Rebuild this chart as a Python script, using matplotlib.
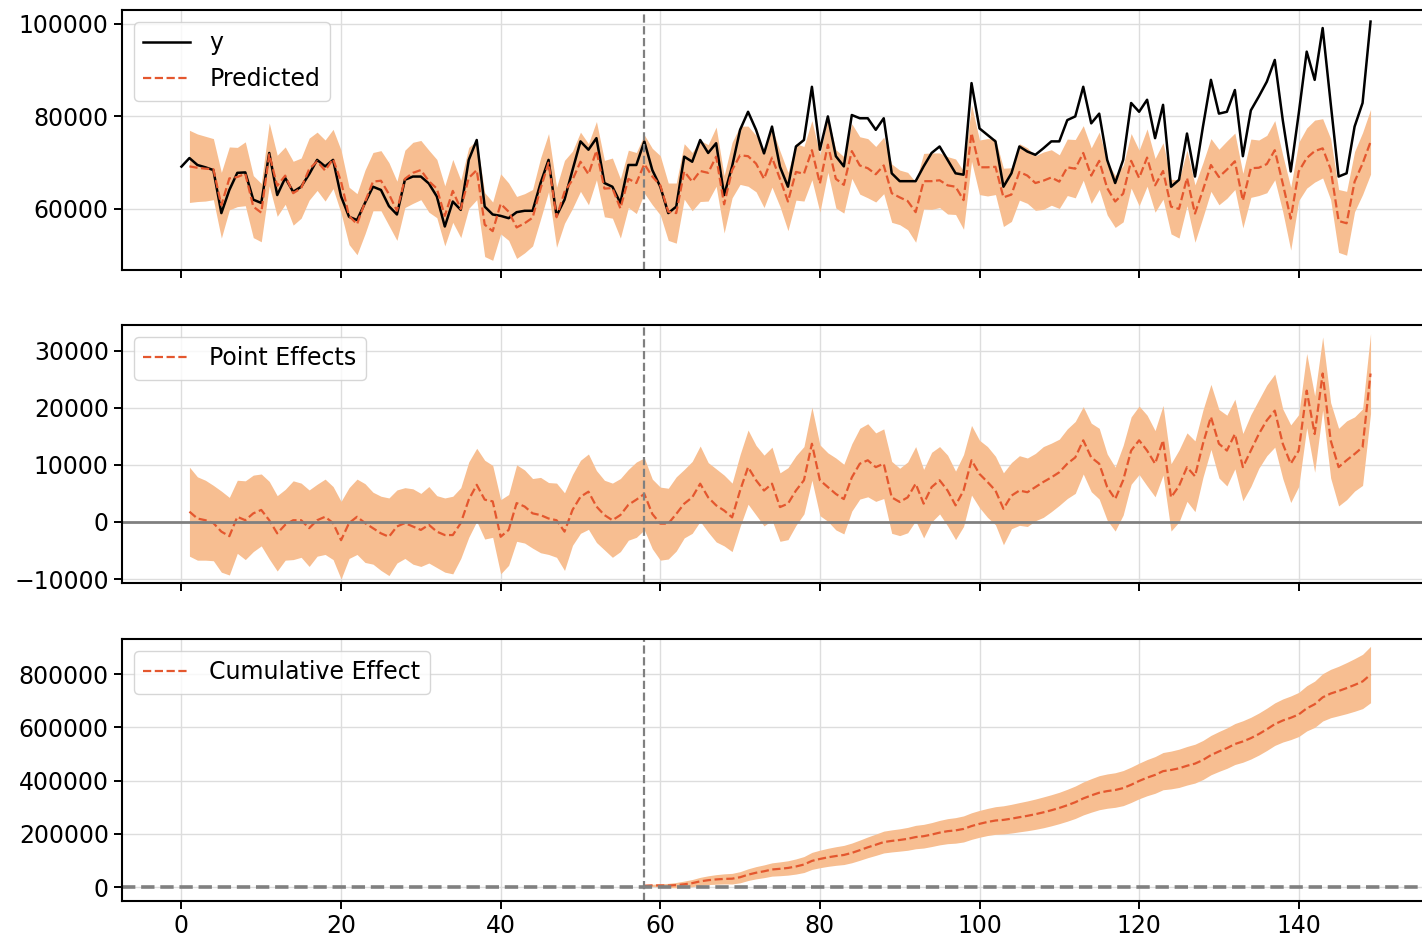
import numpy as np
import matplotlib.pyplot as plt

nan = np.nan
intervention = 58

# observed series
y = [
    69150, 71000, 69500, 69000, 68400, 59100, 64100, 67800, 67900, 62000,
    61300, 72100, 63000, 66700, 63700, 64800, 67500, 70600, 69200, 70600,
    62700, 58300, 57600, 61300, 64800, 64100, 60600, 58800, 66300, 67000,
    67000, 65500, 62700, 56200, 61600, 59800, 70600, 74900, 60500, 58800,
    58500, 58000, 59300, 59600, 59600, 65600, 70600, 58500, 62000, 68400,
    74600, 72800, 75300, 65600, 64800, 61300, 69500, 69500, 74600, 68400,
    64800, 59100, 60500, 71300, 70200, 74900, 72100, 74200, 63000, 69200,
    77100, 81000, 77100, 72000, 77800, 69100, 64800, 73500, 74900, 86400,
    72800, 80000, 71400, 69200, 80300, 79600, 79600, 77100, 79600, 67700,
    66000, 66000, 66000, 69200, 72100, 73500, 70600, 67700, 67400, 87200,
    77400, 76000, 74600, 64800, 67700, 73500, 72400, 71700, 73100, 74600,
    74600, 79200, 80000, 86400, 78500, 80600, 70600, 65600, 70600, 82900,
    81000, 83600, 75300, 82500, 64800, 66300, 76300, 67000, 77800, 87900,
    80600, 81000, 85700, 71400, 81300, 84300, 87500, 92200, 79200, 68100,
    80600, 94000, 87900, 99100, 82900, 67000, 67700, 77800, 82900, 100500,
]

# model prediction (first point has no prediction)
predicted = [
    nan, 69200, 68900, 68700, 68600, 60800, 66600, 66900, 67600, 60500,
    59200, 71800, 65000, 67200, 63400, 64500, 68600, 70300, 68300, 70800,
    65900, 58500, 56700, 61500, 65900, 66100, 63200, 59600, 66500, 67800,
    68400, 66000, 64400, 58500, 63900, 60000, 66700, 68400, 56600, 55200,
    61100, 59400, 56000, 56900, 58100, 64400, 70000, 58200, 63700, 66300,
    70200, 67500, 72600, 64400, 64500, 60100, 66500, 65600, 69700, 67000,
    65100, 59400, 59100, 68100, 65900, 68200, 67800, 71300, 61000, 68400,
    71600, 71400, 69800, 66500, 71100, 66500, 61600, 68000, 67600, 72700,
    65500, 73900, 66500, 65200, 72500, 69400, 68800, 67500, 69400, 63400,
    62500, 61700, 59300, 66000, 66000, 66200, 65100, 64800, 61900, 76400,
    69000, 69000, 69100, 62500, 63100, 68000, 67200, 65600, 66100, 66800,
    65900, 69000, 68700, 72100, 67200, 70400, 64500, 61600, 63300, 70400,
    66700, 71100, 65100, 68200, 60500, 60000, 66700, 59000, 64100, 69500,
    66900, 68500, 70300, 61800, 68800, 68900, 69700, 72700, 65500, 57900,
    68100, 71000, 72500, 73100, 68600, 57400, 56900, 65900, 69800, 74500,
]

# half width of the prediction interval
pred_halfwidth = [
    nan, 7800, 7300, 7000, 6600, 7100, 6800, 6400, 6900, 6700,
    6300, 6800, 6600, 6200, 6900, 6500, 6700, 6300, 6600, 6400,
    6800, 6200, 6600, 6900, 6300, 6500, 6800, 6400, 6200, 6600,
    6400, 6700, 6300, 6500, 6800, 6200, 6600, 6400, 6900, 6300,
    6500, 6200, 6700, 6400, 6100, 6600, 6300, 6500, 6800, 6200,
    6400, 6600, 6300, 6100, 6500, 6400, 6200, 6600, 6300, 6100,
    6400, 6200, 6500, 6000, 6300, 6600, 6100, 6400, 6200, 6000,
    6300, 6500, 6100, 6200, 6400, 6000, 6300, 6100, 5900, 6400,
    6200, 6000, 6300, 6100, 5900, 6200, 6400, 6000, 6100, 6300,
    5900, 6200, 6500, 6000, 6100, 5900, 6200, 6000, 6300, 6100,
    5900, 6200, 6000, 6300, 5800, 6100, 6000, 5900, 6200, 6000,
    5800, 6100, 6300, 5900, 6000, 6200, 5800, 5600, 6100, 5900,
    6000, 6200, 5800, 6100, 5900, 6300, 6000, 6200, 5900, 5700,
    6000, 6200, 6100, 5900, 6300, 6000, 6200, 6400, 6100, 6800,
    6300, 6500, 6700, 6400, 6600, 6800, 6900, 6500, 6700, 7000,
]

# half width of the cumulative-effect interval (post period only)
cum_halfwidth = [
    2000, 4000, 6000, 8000, 10000, 12000, 13500, 15000, 16500, 18000,
    19000, 20000, 21000, 22000, 23000, 24000, 25000, 26000, 27000, 28500,
    30000, 32000, 33000, 34000, 35000, 36000, 37000, 38000, 39000, 40000,
    41000, 41500, 42000, 43000, 44000, 44500, 45000, 46000, 47000, 48000,
    49000, 50000, 50500, 51000, 52000, 53000, 54000, 55000, 56000, 57000,
    58000, 58500, 59000, 60000, 61000, 62000, 63000, 64000, 64500, 65000,
    66000, 66500, 67000, 68000, 69000, 70000, 71000, 72000, 72500, 73000,
    73500, 74000, 75000, 76000, 77000, 78000, 78500, 79000, 79500, 80000,
    81000, 82000, 83000, 85000, 87000, 89000, 91000, 93000, 96000, 99000,
    102000, 106000,
]

x = np.arange(len(y))
y = np.array(y, dtype=float)
predicted = np.array(predicted, dtype=float)
hw = np.array(pred_halfwidth, dtype=float)
pred_lower = predicted - hw
pred_upper = predicted + hw

effect = y - predicted
effect_lower = y - pred_upper
effect_upper = y - pred_lower

post = x >= intervention
cum = np.cumsum(effect[post])
cum_lower = cum - np.array(cum_halfwidth)
cum_upper = cum + np.array(cum_halfwidth)

line_c = '#e4572e'
band_c = '#f7be91'

plt.rcParams['font.size'] = 17

fig = plt.figure(figsize=(14.22, 9.40), dpi=100)
W = 1422
H = 940
left = 122 / W
width = 1308 / W
ax1 = fig.add_axes([left, 1 - 270 / H, width, 260 / H])
ax2 = fig.add_axes([left, 1 - 583 / H, width, 258 / H], sharex=ax1)
ax3 = fig.add_axes([left, 1 - 901 / H, width, 262 / H], sharex=ax1)

# original vs predicted
ax1.plot(x, y, color='black', lw=1.8, label='y')
ax1.plot(x, predicted, color=line_c, lw=1.6, ls='--', label='Predicted')
ax1.fill_between(x, pred_lower, pred_upper, color=band_c, lw=0)
ax1.axvline(intervention - 0.1, color='gray', ls='--', lw=1.6)
ax1.set_ylim(46800, 103000)
ax1.set_yticks([60000, 80000, 100000])
ax1.legend(loc='upper left', fontsize=17)

# point effects
ax2.plot(x, effect, color=line_c, lw=1.6, ls='--', label='Point Effects')
ax2.fill_between(x, effect_lower, effect_upper, color=band_c, lw=0)
ax2.axvline(intervention - 0.1, color='gray', ls='--', lw=1.6)
ax2.axhline(0, color='gray', lw=2)
ax2.set_ylim(-10700, 34500)
ax2.set_yticks([-10000, 0, 10000, 20000, 30000])
ax2.legend(loc='upper left', fontsize=17)

# cumulative effect
ax3.plot(x[post], cum, color=line_c, lw=1.6, ls='--', label='Cumulative Effect')
ax3.fill_between(x[post], cum_lower, cum_upper, color=band_c, lw=0)
ax3.axvline(intervention - 0.1, color='gray', ls='--', lw=1.6)
ax3.axhline(0, color='gray', ls='--', lw=2.6)
ax3.set_ylim(-52600, 932700)
ax3.set_yticks([0, 200000, 400000, 600000, 800000])
ax3.legend(loc='upper left', fontsize=17)

for ax in (ax1, ax2, ax3):
    ax.grid(True, color='#dddddd', lw=1)
    ax.set_axisbelow(True)
    ax.tick_params(labelsize=17, length=6, width=1.4)
    for s in ax.spines.values():
        s.set_linewidth(1.5)
ax1.tick_params(labelbottom=False)
ax2.tick_params(labelbottom=False)
ax3.set_xticks(range(0, 141, 20))

fig.savefig('out.png', dpi=100)
